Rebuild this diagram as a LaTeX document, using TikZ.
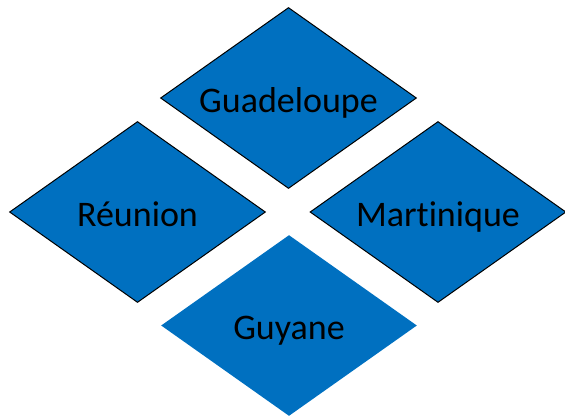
\documentclass[tikz,border=0pt]{standalone}
\usepackage{fontspec}
\setmainfont[Ligatures=NoCommon]{Carlito}
\usetikzlibrary{shapes.geometric}
\definecolor{dromblue}{RGB}{0,112,192}

\begin{document}
\begin{tikzpicture}[
  x=0.5pt, y=-0.5pt,
  region/.style={diamond, draw=black, line width=0.5pt, fill=dromblue,
    aspect=1.414, inner sep=0pt, minimum width=128pt, minimum height=90.5pt,
    text height=14pt, text depth=0pt,
    font=\fontsize{18}{20}\selectfont},
  plainregion/.style={region, draw=none}
]
  \useasboundingbox (0,0) rectangle (565,418);
  \node[region] (guadeloupe) at (288.5,98) {Guadeloupe};
  \node[region] (reunion) at (137.5,212) {Réunion};
  \node[region] (martinique) at (438,212) {Martinique};
  \node[plainregion] (guyane) at (289,325.5) {Guyane};
\end{tikzpicture}
\end{document}
